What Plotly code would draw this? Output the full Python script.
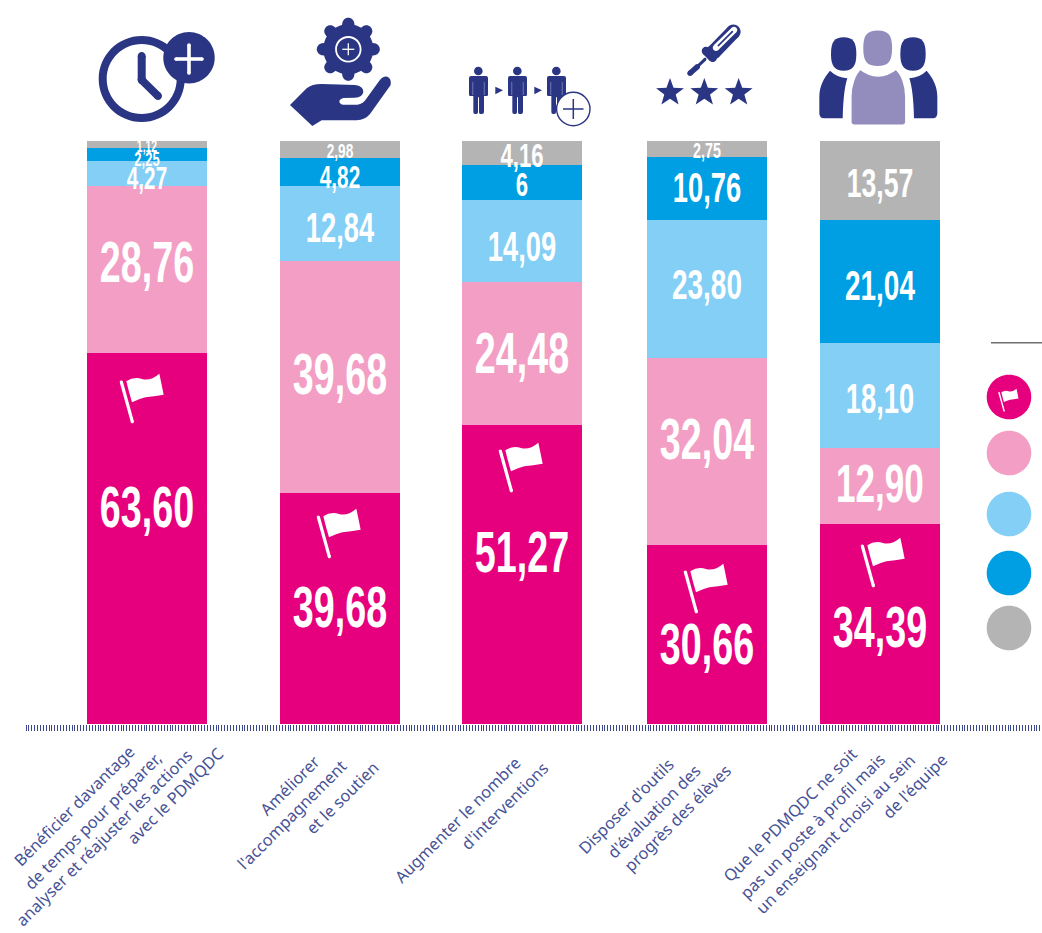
import math
import re
import plotly.graph_objects as go

# ---------- data ----------
categories = ["Temps", "Accompagnement", "Interventions", "Outils", "Poste"]
serie_1 = [63.60, 39.68, 51.27, 30.66, 34.39]
serie_2 = [28.76, 39.68, 24.48, 32.04, 12.90]
serie_3 = [4.27, 12.84, 14.09, 23.80, 18.10]
serie_4 = [2.25, 4.82, 6.00, 10.76, 21.04]
serie_5 = [1.12, 2.98, 4.16, 2.75, 13.57]
labels_1 = ["63,60", "39,68", "51,27", "30,66", "34,39"]
labels_2 = ["28,76", "39,68", "24,48", "32,04", "12,90"]
labels_3 = ["4,27", "12,84", "14,09", "23,80", "18,10"]
labels_4 = ["2,25", "4,82", "6", "10,76", "21,04"]
labels_5 = ["1,12", "2,98", "4,16", "2,75", "13,57"]

# ---------- layout / style ----------
W, H = 1042, 933
bar_centers = [147, 340, 522, 707, 880]
bar_width = 120
y0_px, y100_px = 724, 141
px_per_unit = (y0_px - y100_px) / 100
colors = ["#E6007E", "#F39EC4", "#84CFF5", "#009FE3", "#B4B4B4"]
navy = "#2A3583"
purple = "#938DBD"
sizes = [
    [58, 58, 58, 58, 58],
    [58, 58, 58, 58, 54],
    [32, 42, 42, 43, 42],
    [20, 32, 34, 42, 43],
    [16, 21, 34, 22, 41],
]
shift_px = [
    [-31, -1, -22, 10, 4],
    [-7, -2, 0, -12, -2],
    [5, 4, 6, -4, 3],
    [5, 5, 2, 0, 4],
    [2, 1, 2, 2, 3],
]
text_lines = [
    ("Bénéficier davantage", 136, 743), ("de temps pour préparer,", 163, 750),
    ("analyser et réajuster les actions", 194, 748), ("avec le PDMQDC", 225, 745),
    ("Améliorer", 322, 753), ("l'accompagnement", 348, 758), ("et le soutien", 380, 759),
    ("Augmenter le nombre", 522, 755), ("d'interventions", 550, 760),
    ("Disposer d'outils", 676, 756), ("d'évaluation des", 703, 762), ("progrès des élèves", 733, 762),
    ("Que le PDMQDC ne soit", 859, 746), ("pas un poste à profil mais", 887, 751),
    ("un enseignant choisi au sein", 917, 752), ("de l'équipe", 949, 751),
]
flag_centers = [(143, 398), (340, 533), (522, 467), (707, 588), (884, 562)]
legend_y = [397, 453, 514, 573, 628]

series = [serie_1, serie_2, serie_3, serie_4, serie_5]
labels = [labels_1, labels_2, labels_3, labels_4, labels_5]

fig = go.Figure()
for name, vals, col in zip(categories, series, colors):
    fig.add_bar(x=bar_centers, y=vals, width=bar_width, marker=dict(color=col, line_width=0),
                showlegend=False, hoverinfo="y")

base = [0.0] * 5
for i, (vals, txt) in enumerate(zip(series, labels)):
    ys = [b + v / 2 - (s + f * 0.085) / px_per_unit for b, v, s, f in zip(base, vals, shift_px[i], sizes[i])]
    base = [b + v for b, v in zip(base, vals)]
    fig.add_scatter(x=bar_centers, y=ys, mode="text", text=txt, textposition="middle center",
                    textfont=dict(family="Liberation Sans", size=sizes[i], color="white", weight="bold"),
                    showlegend=False, hoverinfo="skip", cliponaxis=False)


# ---------- drawing helpers (pixel space -> paper) ----------
def conv(path, ox=0.0, oy=0.0, s=1.0, mirror=None):
    out, isx = [], True
    for tok in re.findall(r"[A-Za-z]|-?\d+\.?\d*", path):
        if tok.isalpha():
            out.append(tok)
            continue
        v = float(tok)
        if isx:
            if mirror is not None:
                v = mirror - (v - mirror)
            out.append(f"{(ox + v * s) / W:.5f}")
        else:
            out.append(f"{1 - (oy + v * s) / H:.5f}")
        isx = not isx
    return " ".join(out)


shapes = []


def add(path, fill=navy, line=None, lw=0, **kw):
    shapes.append(dict(type="path", xref="paper", yref="paper", path=conv(path, **kw), fillcolor=fill,
                       line=dict(color=line or fill, width=lw), layer="above"))


def circ(cx, cy, rx, ry=None, k=0.5523):
    ry = rx if ry is None else ry
    return (f"M {cx-rx:.3f} {cy:.3f} C {cx-rx:.3f} {cy-k*ry:.3f} {cx-k*rx:.3f} {cy-ry:.3f} {cx:.3f} {cy-ry:.3f} "
            f"C {cx+k*rx:.3f} {cy-ry:.3f} {cx+rx:.3f} {cy-k*ry:.3f} {cx+rx:.3f} {cy:.3f} "
            f"C {cx+rx:.3f} {cy+k*ry:.3f} {cx+k*rx:.3f} {cy+ry:.3f} {cx:.3f} {cy+ry:.3f} "
            f"C {cx-k*rx:.3f} {cy+ry:.3f} {cx-rx:.3f} {cy+k*ry:.3f} {cx-rx:.3f} {cy:.3f} Z")


def seg(x1, y1, x2, y2, w, col, cap=True):
    dx, dy = x2 - x1, y2 - y1
    L = math.hypot(dx, dy)
    nx, ny = -dy / L * w / 2, dx / L * w / 2
    add(f"M {x1+nx:.3f} {y1+ny:.3f} L {x2+nx:.3f} {y2+ny:.3f} L {x2-nx:.3f} {y2-ny:.3f} L {x1-nx:.3f} {y1-ny:.3f} Z", fill=col)
    if cap:
        add(circ(x1, y1, w / 2), fill=col)
        add(circ(x2, y2, w / 2), fill=col)


def star(cx, cy, R, r):
    pts = []
    for k in range(10):
        a = -math.pi / 2 + k * math.pi / 5
        rr = R if k % 2 == 0 else r
        pts.append((cx + rr * math.cos(a), cy + rr * math.sin(a)))
    return "M " + " L ".join(f"{x:.2f} {y:.2f}" for x, y in pts) + " Z"


FLAG = ("M 53 55 Q 75 40 100 48 Q 125 55 152 32 Q 158 60 165 95 Q 135 100 110 103 Q 90 108 70 118 Q 60 85 53 55 Z")


def flag(cx, cy, s=1.0):
    k = s / 3
    ox, oy = cx - 103 * k, cy - 105 * k
    add(FLAG, fill="white", ox=ox, oy=oy, s=k)
    seg(ox + 38 * k, oy + 57 * k, ox + 71 * k, oy + 176 * k, 3.2 * s, "white")


# icon 1: clock with plus
add(circ(141.7, 79, 43) + " " + circ(141.7, 79, 35))
seg(141.7, 56, 141.7, 80, 8, navy)
seg(141.7, 80, 158, 96, 8, navy)
add(circ(189, 57.7, 25.7))
seg(176, 59, 202, 59, 3.6, "white", cap=True)
seg(189, 45, 189, 73, 3.6, "white", cap=True)

# icon 2: gear in a hand
gcx, gcy = 348.3, 49.3
for k in range(8):
    a = k * math.pi / 4
    seg(gcx + 20 * math.cos(a), gcy + 20 * math.sin(a), gcx + 25.5 * math.cos(a), gcy + 25.5 * math.sin(a), 12, navy)
add(circ(gcx, gcy, 25))
add(circ(gcx, gcy, 13.2) + " " + circ(gcx, gcy, 11.4), fill="white")
seg(gcx - 6, gcy, gcx + 6, gcy, 1.3, "white", cap=False)
seg(gcx, gcy - 6, gcx, gcy + 6, 1.3, "white", cap=False)
add("M 30 285 L 80 235 Q 95 222 125 222 L 225 225 Q 250 228 250 245 Q 248 262 225 263 L 190 264 "
    "Q 178 268 178 275 Q 180 283 190 284 L 232 284 Q 250 282 260 265 L 298 212 Q 310 197 322 200 "
    "Q 335 205 332 225 L 270 312 Q 255 330 230 331 L 125 331 L 97 348 Z", ox=280, oy=10, s=1 / 3)

# icon 3: persons, arrows, plus
PERSON = ("M 93 228 L 138 228 Q 144 228 144 234 L 144 284 Q 144 288 140 288 L 132 288 L 132 336 Q 132 342 126 342 L 121 342 "
          "Q 117 342 117 336 L 117 292 L 114 292 L 114 336 Q 114 342 109 342 L 105 342 Q 100 342 100 336 "
          "L 100 288 L 91 288 Q 87 288 87 284 L 87 234 Q 87 228 93 228 Z")
for dx in (0, 117, 234):
    add(PERSON, ox=440 + dx / 3, oy=0, s=1 / 3)
    add(circ(115, 213, 13), ox=440 + dx / 3, oy=0, s=1 / 3)
    seg(440 + (dx + 98.5) / 3, 82, 440 + (dx + 98.5) / 3, 95, 0.7, "#8F96C4", cap=False)
    seg(440 + (dx + 132.5) / 3, 82, 440 + (dx + 132.5) / 3, 95, 0.7, "#8F96C4", cap=False)
for dx in (0, 117):
    add("M 166 260 L 189 271 L 166 283 Z", ox=440 + dx / 3, oy=0, s=1 / 3)
add(circ(573.3, 109, 16.7), fill="white", line=navy, lw=1.4)
seg(563, 109, 583.5, 109, 1.5, navy, cap=False)
seg(573.3, 99, 573.3, 119, 1.5, navy, cap=False)


# icon 4: screwdriver and stars
def z4(x, y):
    return 650 + x / 3, 15 + y / 3


seg(*z4(120, 175), *z4(142, 155), 5.5, navy)
seg(*z4(142, 155), *z4(165, 133), 3.0, navy)
seg(*z4(168, 108), *z4(188, 128), 8.5, navy)
seg(*z4(190, 112), *z4(250, 50), 14.5, navy)
seg(*z4(198, 98), *z4(252, 45), 6.5, "white")
seg(*z4(205, 92), *z4(247, 50), 1.6, navy)
for cx in (60, 163, 266):
    add(star(cx, 233, 44, 18), ox=650, oy=15, s=1 / 3)

# icon 5: people
for m in (None, 205):
    add(circ(101, 132, 38, 50, k=0.72), ox=810, oy=10, s=1 / 3, mirror=m)
    add("M 60 182 Q 80 202 112 205 Q 100 240 98 325 L 42 325 Q 28 325 28 310 L 28 260 C 28 230 40 205 60 182 Z",
        ox=810, oy=10, s=1 / 3, mirror=m)
add(circ(203, 115, 50, 60, k=0.72), fill=purple, line="white", lw=4.5, ox=810, oy=10, s=1 / 3)
add("M 150 172 Q 205 215 258 172 C 280 190 292 225 292 260 L 292 335 Q 292 350 277 350 L 133 350 Q 118 350 118 335 "
    "L 118 260 C 118 225 130 190 150 172 Z", fill=purple, line="white", lw=4.5, ox=810, oy=10, s=1 / 3)

# flags on bars
for cx, cy in flag_centers:
    flag(cx, cy)

# legend key (no text in the source)
shapes.append(dict(type="line", xref="paper", yref="paper", x0=991 / W, x1=1, y0=1 - 342.7 / H, y1=1 - 342.7 / H,
                   line=dict(color="#6E6E6E", width=1.5)))
for yy, col in zip(legend_y, colors):
    add(circ(1009, yy, 22.3), fill=col)
flag(1009, 400, 0.46)

# ---------- rotated category labels ----------
annotations = [
    dict(text=t, x=(xp + 3) / W, y=1 - (yp - 2.5) / H, xref="paper", yref="paper", xanchor="right", yanchor="top",
         textangle=-45, showarrow=False, borderpad=0, borderwidth=0,
         font=dict(family="Noto Sans", size=16.3, color="#475296"))
    for t, xp, yp in text_lines
]

fig.update_layout(
    width=W, height=H, margin=dict(l=0, r=0, t=0, b=0), paper_bgcolor="white", plot_bgcolor="white",
    barmode="stack", bargap=0, showlegend=False, shapes=shapes, annotations=annotations,
    xaxis=dict(domain=[26 / W, 1], range=[26, W], tick0=26, dtick=2.88, ticks="outside", ticklen=6, tickwidth=1.2,
               tickcolor="#3A4690", showticklabels=False, showgrid=False, zeroline=False, showline=False),
    yaxis=dict(domain=[1 - y0_px / H, 1 - y100_px / H + 2 / H], range=[0, 100 + 2 / px_per_unit],
               visible=False, showgrid=False, zeroline=False),
)
# The source's numerals are a tall condensed face; narrow the bold sans horizontally about each label centre.
post = """
document.body.style.margin='0';document.documentElement.style.overflow='hidden';
function squeezeLabels(){document.querySelectorAll('.textpoint text').forEach(function(t){
  var x=parseFloat(t.getAttribute('x'));
  t.setAttribute('transform','translate('+x+',0) scale(0.65,1) translate('+(-x)+',0)');});}
squeezeLabels();setTimeout(squeezeLabels,100);setTimeout(squeezeLabels,500);
"""
fig.write_html("out.html", config={"displayModeBar": False}, post_script=post)
